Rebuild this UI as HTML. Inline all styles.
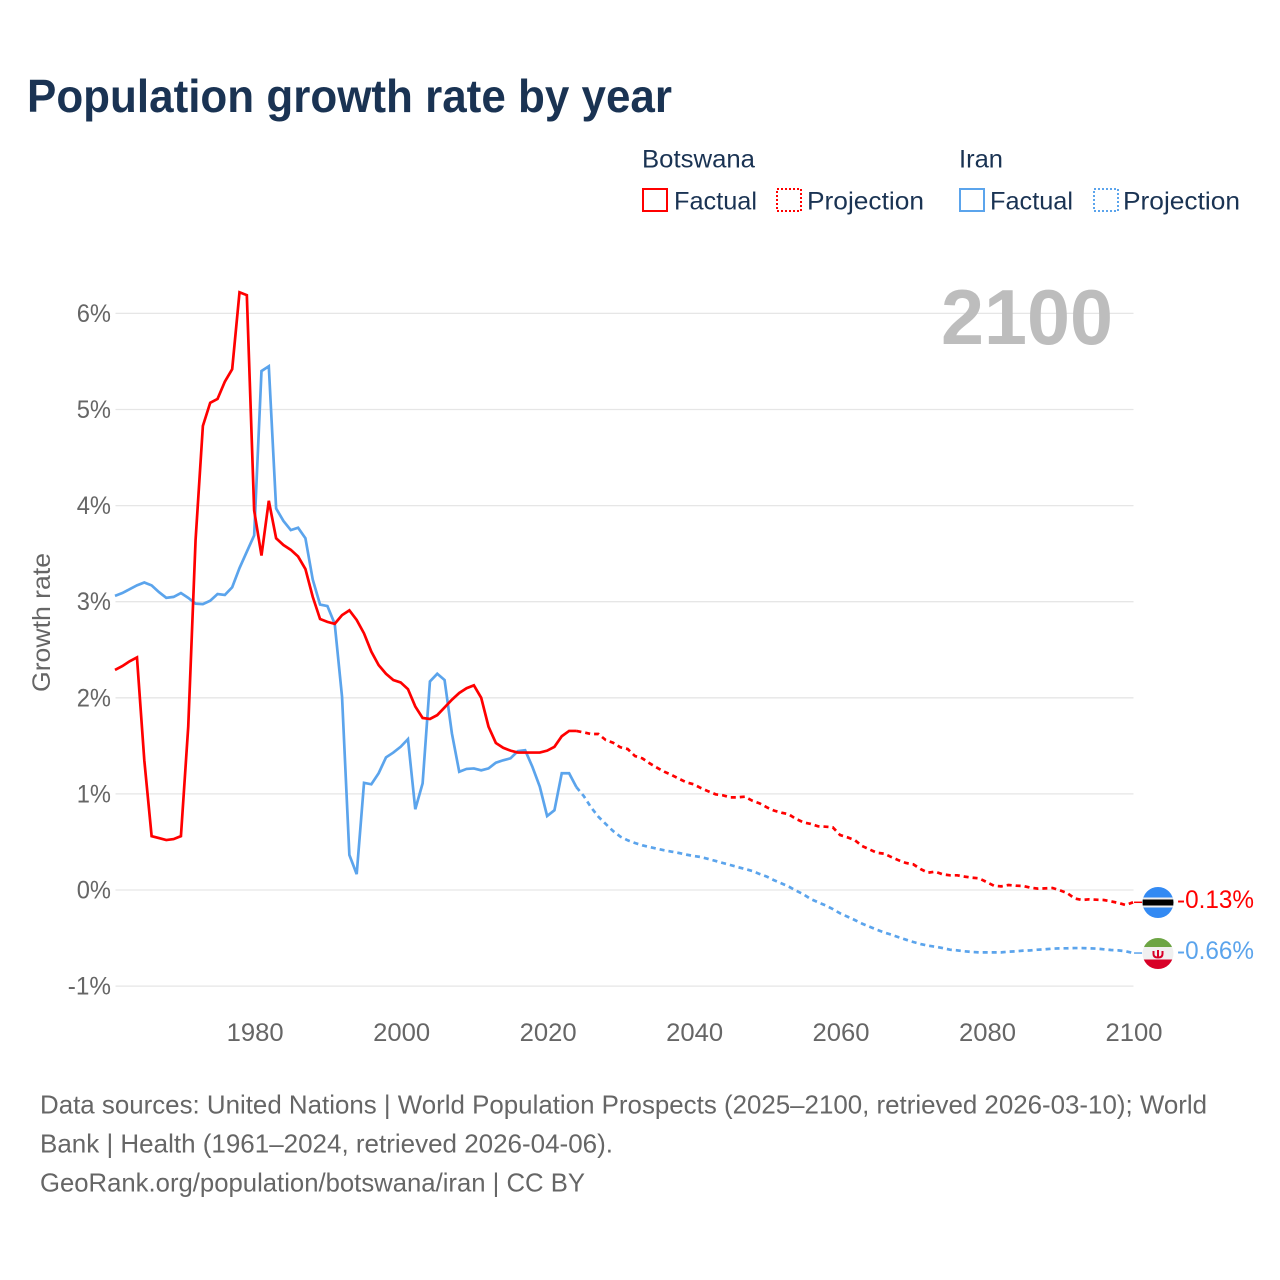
<!DOCTYPE html>
<html lang="en">
<head>
<meta charset="utf-8">
<title>Population growth rate by year</title>
<style>
html,body{margin:0;padding:0;background:#fff;}
svg{display:block;}
text{font-family:"Liberation Sans",sans-serif;}
</style>
</head>
<body>
<svg id="chart" xmlns="http://www.w3.org/2000/svg" width="1280" height="1280" viewBox="0 0 1280 1280">
  <defs>
    <clipPath id="flag-clip-top"><circle cx="1158" cy="902.5" r="15.5"/></clipPath>
    <clipPath id="flag-clip-bottom"><circle cx="1158" cy="953.5" r="15.5"/></clipPath>
  </defs>
  <rect width="1280" height="1280" fill="#fff"/>
  <text x="27" y="112" font-size="46" font-weight="700" fill="#1a3353" textLength="645" lengthAdjust="spacingAndGlyphs">Population growth rate by year</text>

  <g font-size="25" fill="#1a3353">
    <text x="642" y="167.5" textLength="113" lengthAdjust="spacingAndGlyphs">Botswana</text>
    <text x="959" y="167.5" textLength="44" lengthAdjust="spacingAndGlyphs">Iran</text>
    <rect x="643" y="189" width="24" height="22" fill="none" stroke="#ff0000" stroke-width="2"/>
    <text x="674" y="209.5" textLength="83" lengthAdjust="spacingAndGlyphs">Factual</text>
    <rect x="777" y="189" width="24" height="22" fill="none" stroke="#ff0000" stroke-width="2" stroke-dasharray="2 2"/>
    <text x="807" y="209.5" textLength="117" lengthAdjust="spacingAndGlyphs">Projection</text>
    <rect x="960" y="189" width="24" height="22" fill="none" stroke="#5ba4ec" stroke-width="2"/>
    <text x="990" y="209.5" textLength="83" lengthAdjust="spacingAndGlyphs">Factual</text>
    <rect x="1094" y="189" width="24" height="22" fill="none" stroke="#5ba4ec" stroke-width="2" stroke-dasharray="2 2"/>
    <text x="1123" y="209.5" textLength="117" lengthAdjust="spacingAndGlyphs">Projection</text>
  </g>

  <g id="grid"></g>
  <g id="y-ticks"></g>
  <g id="x-ticks"></g>
  <text transform="translate(50,622.5) rotate(-90)" text-anchor="middle" font-size="25" fill="#666666" textLength="139" lengthAdjust="spacingAndGlyphs">Growth rate</text>
  <text x="941" y="344" font-size="78" font-weight="700" fill="#bdbdbd" textLength="172" lengthAdjust="spacingAndGlyphs">2100</text>

  <g id="series"></g>

  <g clip-path="url(#flag-clip-top)">
    <rect x="1142" y="886" width="32" height="33" fill="#338af3"/>
    <rect x="1142" y="897.5" width="32" height="10" fill="#f0f0f0"/>
    <rect x="1142" y="899.5" width="32" height="6" fill="#000"/>
  </g>
  <g clip-path="url(#flag-clip-bottom)">
    <rect x="1142" y="937" width="32" height="33" fill="#f0f0f0"/>
    <rect x="1142" y="937" width="32" height="10" fill="#6da544"/>
    <rect x="1142" y="959.5" width="32" height="11" fill="#d80027"/>
    <path d="M1153.5 951v3q0 3.5 4.5 3.5t4.5-3.5v-3M1158 950v7" fill="none" stroke="#d80027" stroke-width="2"/>
  </g>
  <text id="label-botswana" x="1177" y="908" font-size="25" fill="#ff0000" textLength="77" lengthAdjust="spacingAndGlyphs">-0.13%</text>
  <text id="label-iran" x="1177" y="959" font-size="25" fill="#5ba4ec" textLength="77" lengthAdjust="spacingAndGlyphs">-0.66%</text>

  <g font-size="26" fill="#666666">
    <text x="40" y="1113.5" textLength="1167" lengthAdjust="spacingAndGlyphs">Data sources: United Nations | World Population Prospects (2025–2100, retrieved 2026-03-10); World</text>
    <text x="40" y="1152.5" textLength="573" lengthAdjust="spacingAndGlyphs">Bank | Health (1961–2024, retrieved 2026-04-06).</text>
    <text x="40" y="1191.5" textLength="545" lengthAdjust="spacingAndGlyphs">GeoRank.org/population/botswana/iran | CC BY</text>
  </g>
</svg>
<script>
const yTickValues = [-1, 0, 1, 2, 3, 4, 5, 6];
const xTickYears = [1980, 2000, 2020, 2040, 2060, 2080, 2100];
const factualStartYear = 1961;
const projectionStartYear = 2025;
const botswanaFactual = [2.29,2.33,2.38,2.42,1.35,0.56,0.54,0.52,0.53,0.56,1.70,3.64,4.83,5.07,5.11,5.29,5.42,6.22,6.19,3.95,3.48,4.05,3.66,3.59,3.54,3.47,3.34,3.05,2.82,2.79,2.77,2.86,2.91,2.81,2.67,2.48,2.34,2.25,2.185,2.16,2.09,1.91,1.79,1.78,1.82,1.90,1.98,2.05,2.10,2.13,2.00,1.70,1.53,1.48,1.45,1.43,1.43,1.43,1.43,1.45,1.49,1.60,1.655,1.655];
const iranFactual = [3.06,3.09,3.13,3.17,3.20,3.17,3.10,3.04,3.05,3.09,3.04,2.98,2.975,3.01,3.08,3.07,3.15,3.35,3.52,3.69,5.40,5.45,3.97,3.84,3.745,3.77,3.66,3.23,2.97,2.955,2.77,2.01,0.365,0.165,1.115,1.10,1.215,1.38,1.43,1.49,1.57,0.84,1.11,2.17,2.25,2.185,1.63,1.23,1.26,1.265,1.245,1.265,1.325,1.35,1.37,1.445,1.455,1.28,1.075,0.77,0.83,1.215,1.215,1.07];
const botswanaProjection = [1.64,1.623,1.623,1.561,1.533,1.485,1.467,1.394,1.370,1.318,1.273,1.231,1.197,1.158,1.121,1.100,1.061,1.027,0.996,0.985,0.964,0.964,0.971,0.930,0.902,0.860,0.826,0.805,0.787,0.739,0.704,0.687,0.663,0.659,0.652,0.572,0.548,0.520,0.458,0.423,0.388,0.378,0.343,0.309,0.281,0.267,0.218,0.180,0.191,0.163,0.153,0.153,0.139,0.128,0.121,0.083,0.045,0.038,0.052,0.045,0.042,0.024,0.014,0.017,0.021,-0.003,-0.031,-0.087,-0.104,-0.097,-0.101,-0.104,-0.118,-0.135,-0.156,-0.128];
const iranProjection = [0.978,0.860,0.763,0.687,0.614,0.555,0.517,0.489,0.465,0.447,0.430,0.413,0.399,0.385,0.368,0.354,0.343,0.323,0.302,0.281,0.260,0.239,0.219,0.198,0.167,0.139,0.101,0.069,0.035,-0.007,-0.045,-0.094,-0.128,-0.160,-0.198,-0.243,-0.277,-0.312,-0.350,-0.381,-0.413,-0.441,-0.465,-0.492,-0.517,-0.541,-0.562,-0.579,-0.590,-0.604,-0.621,-0.628,-0.638,-0.645,-0.649,-0.649,-0.649,-0.649,-0.642,-0.638,-0.631,-0.628,-0.621,-0.617,-0.610,-0.607,-0.607,-0.604,-0.604,-0.607,-0.610,-0.617,-0.624,-0.628,-0.638,-0.656];

const NS = 'http://www.w3.org/2000/svg';
const RED = '#ff0000';
const BLUE = '#5ba4ec';
function xScale(year) { return 115 + (year - 1961) * 7.324; }
function yScale(value) { return 890 - value * 96.1; }
function make(tag, attrs, parent) {
  const el = document.createElementNS(NS, tag);
  for (const k in attrs) el.setAttribute(k, attrs[k]);
  parent.appendChild(el);
  return el;
}
function labelWidth(s) {
  let w = 0;
  for (const c of s) w += c === '%' ? 20 : c === '-' ? 9 : 14.25;
  return w;
}
function pathFrom(points) {
  return points.map((p, i) => (i ? 'L' : 'M') + p[0].toFixed(2) + ' ' + p[1].toFixed(2)).join('');
}
function seriesPoints(values, startYear) {
  return values.map((v, i) => [xScale(startYear + i), yScale(v)]);
}

const gridGroup = document.getElementById('grid');
const yGroup = document.getElementById('y-ticks');
yTickValues.forEach(v => {
  const line = make('line', {x1: 115.5, x2: 1133.5, y1: yScale(v), y2: yScale(v), stroke: '#e6e6e6', 'stroke-width': 1.3}, gridGroup);
  
  
  const s = v + '%';
  const t = make('text', {x: 111, y: yScale(v) + 8.5, 'text-anchor': 'end', 'font-size': 25, fill: '#666666', textLength: labelWidth(s), lengthAdjust: 'spacingAndGlyphs'}, yGroup);
  
  
  t.textContent = s;
});

const xGroup = document.getElementById('x-ticks');
xTickYears.forEach(y => {
  const s = String(y);
  const t = make('text', {x: xScale(y) + 1, y: 1041, 'text-anchor': 'middle', 'font-size': 25, fill: '#666666', textLength: labelWidth(s), lengthAdjust: 'spacingAndGlyphs'}, xGroup);
  
  
  t.textContent = s;
});

const seriesGroup = document.getElementById('series');
function drawSeries(factual, projection, color) {
  const fp = seriesPoints(factual, factualStartYear);
  const pp = seriesPoints(projection, projectionStartYear);
  const solid = make('path', {d: pathFrom(fp), fill: 'none', stroke: color, 'stroke-width': 2.7, 'stroke-linejoin': 'miter'}, seriesGroup);
  
  
  const dashed = make('path', {d: pathFrom([fp[fp.length - 1]].concat(pp)), fill: 'none', stroke: color, 'stroke-width': 2.7, 'stroke-dasharray': '5 4'}, seriesGroup);
  
  
  const last = pp[pp.length - 1];
  const leader = make('line', {x1: last[0] + 1, x2: last[0] + 9, y1: last[1], y2: last[1], stroke: color, 'stroke-width': 1.5}, seriesGroup);
  
  
}
drawSeries(iranFactual, iranProjection, BLUE);
drawSeries(botswanaFactual, botswanaProjection, RED);
</script>
</body>
</html>
